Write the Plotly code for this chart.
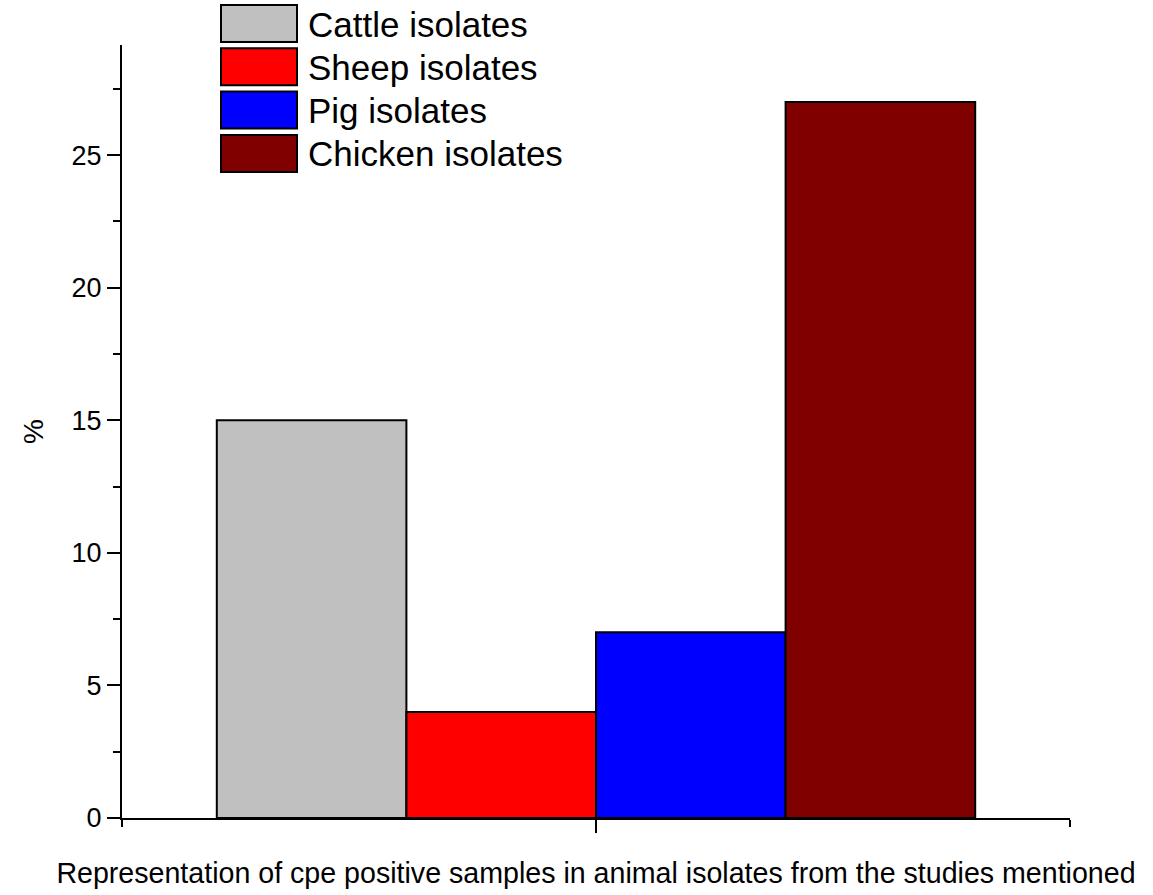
import plotly.graph_objects as go

series = ["Cattle isolates", "Sheep isolates", "Pig isolates", "Chicken isolates"]
values = [15, 4, 7, 27]
colors = ["#C0C0C0", "#FF0000", "#0000FF", "#800000"]
x_title = "Representation of cpe positive samples in animal isolates from the studies mentioned"
y_title = "%"

W, H = 1153, 895
L, R, T, B = 122, 83, 45, 77
pw, ph = W - L - R, H - T - B

fig = go.Figure()
for name, v, c in zip(series, values, colors):
    fig.add_trace(go.Bar(x=[0], y=[v], name=name,
                         marker=dict(color=c, line=dict(color="black", width=2)),
                         showlegend=False))

font = "Liberation Sans, Arial, sans-serif"

# page pixel -> paper coords
def px2x(px):
    return (px - L) / pw

def py2y(py):
    return (H - B - py) / ph

# manual legend with large swatches, as in the reference
shapes = []
annotations = []
for i, (name, c) in enumerate(zip(series, colors)):
    top = 5 + i * 43.3
    shapes.append(dict(type="rect", xref="paper", yref="paper",
                       x0=px2x(221), x1=px2x(297), y0=py2y(top + 37), y1=py2y(top),
                       fillcolor=c, line=dict(color="black", width=2)))
    annotations.append(dict(xref="paper", yref="paper", x=px2x(306), y=py2y(top + 19),
                            text=name, showarrow=False, xanchor="left", yanchor="middle",
                            font=dict(family=font, size=35, color="black")))

fig.update_layout(
    width=W, height=H,
    margin=dict(l=L, r=R, t=T, b=B),
    plot_bgcolor="white", paper_bgcolor="white",
    barmode="group", bargap=0.2, bargroupgap=0,
    font=dict(family=font, size=27, color="black"),
    shapes=shapes, annotations=annotations,
    xaxis=dict(range=[-0.5, 0.5], tickmode="array", tickvals=[0], ticktext=[""],
               showline=True, linecolor="black", linewidth=2,
               ticks="outside", ticklen=13, tickwidth=2, tickcolor="black",
               minor=dict(tickmode="array", tickvals=[-0.5, 0.5], ticks="outside", ticklen=7,
                          tickwidth=2, tickcolor="black"),
               showgrid=False, zeroline=False,
               title=dict(text=x_title, font=dict(size=28.6), standoff=26)),
    yaxis=dict(range=[0, 29.15], tick0=0, dtick=5,
               showline=True, linecolor="black", linewidth=2,
               ticks="outside", ticklen=13, tickwidth=2, tickcolor="black",
               minor=dict(dtick=2.5, ticks="outside", ticklen=7, tickwidth=2, tickcolor="black"),
               showgrid=False, zeroline=False,
               title=dict(text=y_title, font=dict(size=28), standoff=20)),
)

fig.write_html("out.html", config={"displayModeBar": False},
               post_script="document.body.style.margin='0';")
